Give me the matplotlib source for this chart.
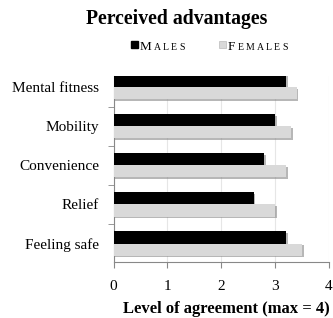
import numpy as np
import matplotlib.pyplot as plt
import matplotlib.patheffects as pe

categories = ['Mental fitness', 'Mobility', 'Convenience', 'Relief', 'Feeling safe']
males = [3.2, 3.0, 2.8, 2.6, 3.2]
females = [3.4, 3.3, 3.2, 3.0, 3.5]

plt.rcParams['font.family'] = ['Liberation Serif', 'DejaVu Serif']

W, H = 333, 318
fig = plt.figure(figsize=(W/100, H/100), dpi=100)
ax = fig.add_axes([113.5/W, 1-262/H, (329-113.5)/W, (262-76)/H])

y = np.arange(len(categories))
h = 0.31
shadow = [pe.SimplePatchShadow(offset=(1.2, -1.2), shadow_rgbFace='#888888', alpha=0.6), pe.Normal()]
ax.barh(y - h/2, males, height=h, color='black', path_effects=shadow, zorder=3)
ax.barh(y + h/2, females, height=h, color='#d9d9d9', path_effects=shadow, zorder=3)

ax.set_xticks([0, 1, 2, 3, 4])
ax.set_xticklabels(['0', '1', '2', '3', '4'], fontsize=11)
ax.set_yticks(y)
ax.set_yticklabels(categories, fontsize=11)
ax.set_yticks(np.arange(len(categories) + 1) - 0.5, minor=True)
ax.set_xlim(0, 4)
ax.set_ylim(len(categories) - 0.53, -0.28)
ax.tick_params(axis='y', which='major', length=0, pad=10.5)
ax.tick_params(axis='y', which='minor', length=4, color='#888888', direction='out')
ax.tick_params(axis='x', length=4, color='#888888', direction='out', pad=9)

ax.grid(axis='x', color='#e6e6e6', linewidth=0.8, zorder=0)
ax.set_axisbelow(True)
for s in ['top', 'right']:
    ax.spines[s].set_visible(False)
ax.spines['left'].set_color('#888888')
ax.spines['bottom'].set_color('#888888')

ax.set_xlabel('Level of agreement (max = 4)', fontsize=12, fontweight='bold', va='center')
ax.xaxis.set_label_coords(0.524, (262-309)/186)

fig.text(177/W, 1-19/H, 'Perceived advantages', ha='center', va='center', fontsize=14.2, fontweight='bold')

# legend drawn by hand, in small caps
r = fig.canvas.get_renderer()
def small_caps(x, base, word, big=9.5, small=7, gap=2.2):
    for i, ch in enumerate(word):
        t = fig.text(x/W, 1-base/H, ch, fontsize=big if i == 0 else small, va='baseline')
        x += t.get_window_extent(r).width + gap

fig.patches.append(plt.Rectangle((131/W, 1-47.5/H), 7/W, 6.5/H, color='black', transform=fig.transFigure))
small_caps(139.5, 50, 'MALES')
fig.patches.append(plt.Rectangle((218.5/W, 1-47.5/H), 7/W, 6.5/H, facecolor='#d9d9d9', edgecolor='#bbbbbb', linewidth=0.5, transform=fig.transFigure))
small_caps(228, 50, 'FEMALES')

fig.savefig('out.png', dpi=100)
